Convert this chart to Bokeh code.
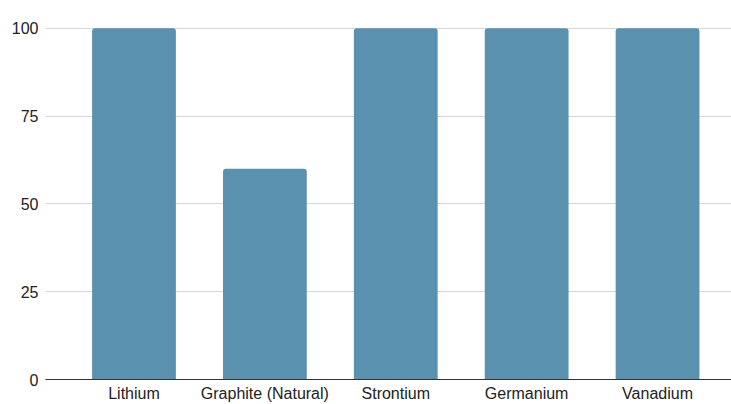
from bokeh.plotting import figure
from bokeh.models import Range1d, FixedTicker
from bokeh.embed import file_html
from bokeh.resources import INLINE

categories = ["Lithium", "Graphite (Natural)", "Strontium", "Germanium", "Vanadium"]
values = [100, 60, 100, 100, 100]
y_ticks = [0, 25, 50, 75, 100]

xs = list(range(len(categories)))

p = figure(width=731, height=404, output_backend="svg", toolbar_location=None,
           x_range=Range1d(-0.676, 4.565), y_range=Range1d(0, 107.9),
           min_border_left=45, min_border_right=0, min_border_top=0, min_border_bottom=0)

p.vbar(x=xs, top=values, width=0.64, bottom=0, fill_color="#5991ae", line_color=None,
       border_radius=(3, 3, 0, 0))

p.outline_line_color = None
p.xgrid.grid_line_color = None
p.ygrid.grid_line_color = "#d6d6d6"
p.ygrid.ticker = FixedTicker(ticks=y_ticks)

p.yaxis.ticker = FixedTicker(ticks=y_ticks)
p.yaxis.axis_line_color = None
p.yaxis.major_tick_line_color = None
p.yaxis.major_tick_out = 0
p.yaxis.major_tick_in = 0
p.yaxis.minor_tick_line_color = None
p.yaxis.major_label_standoff = 7
p.yaxis.major_label_text_font = "Liberation Sans"
p.yaxis.major_label_text_font_size = "16px"
p.yaxis.major_label_text_color = "#222222"

p.xaxis.ticker = FixedTicker(ticks=xs)
p.xaxis.major_label_overrides = {i: c for i, c in enumerate(categories)}
p.xaxis.axis_line_color = "#333333"
p.xaxis.major_tick_line_color = None
p.xaxis.major_tick_out = 0
p.xaxis.major_tick_in = 0
p.xaxis.minor_tick_line_color = None
p.xaxis.major_label_standoff = 5
p.xaxis.major_label_text_font = "Liberation Sans"
p.xaxis.major_label_text_font_size = "16px"
p.xaxis.major_label_text_color = "#222222"

open("out.html", "w").write(file_html(p, INLINE))
